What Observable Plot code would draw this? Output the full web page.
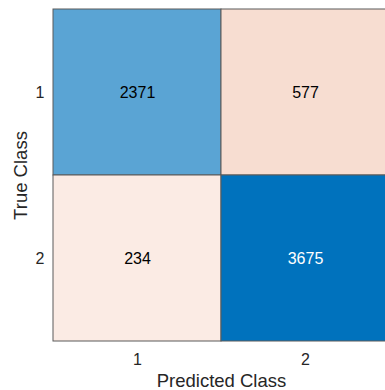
<!DOCTYPE html>
<html>
<head>
<meta charset="utf-8">
<script src="https://cdn.jsdelivr.net/npm/d3@7"></script>
<script src="https://cdn.jsdelivr.net/npm/@observablehq/plot@0.6"></script>
<style>
  html, body { margin: 0; padding: 0; background: #fff; overflow: hidden; }
  svg { font-family: "Liberation Sans", Arial, Helvetica, sans-serif; }
</style>
</head>
<body>
<div id="chart"></div>
<script>
// Confusion matrix: rows are the true class, columns the predicted class
const classes = ["1", "2"];
const trueClass = ["1", "1", "2", "2"];
const predictedClass = ["1", "2", "1", "2"];
const counts = [2371, 577, 234, 3675];

const cells = counts.map((n, i) => ({
  truth: trueClass[i],
  predicted: predictedClass[i],
  count: n,
  diagonal: trueClass[i] === predictedClass[i]
}));

// Diagonal cells shade toward blue, off-diagonal toward a pale orange-red, by count
const maxDiag = d3.max(cells.filter(d => d.diagonal), d => d.count);
const maxOff = d3.max(cells.filter(d => !d.diagonal), d => d.count);
const blue = d3.interpolateRgb("#ffffff", "#0072bd");
const red = d3.interpolateRgb("#ffffff", "#d95319");
const offShade = d3.scaleLinear().domain([0, maxOff]).range([0.06, 0.2]);
function fillFor(d) {
  return d.diagonal ? blue(d.count / maxDiag) : red(offShade(d.count));
}
function textFor(d) {
  return d.diagonal && d.count / maxDiag > 0.8 ? "#fff" : "#000";
}

const chart = Plot.plot({
  width: 385,
  height: 390,
  marginLeft: 53,
  marginRight: -4,
  marginTop: 9,
  marginBottom: 49,
  style: { fontSize: "16px", fontFamily: "Liberation Sans, Arial, sans-serif", color: "#262626" },
  x: { domain: classes, padding: 0, label: null },
  y: { domain: classes, padding: 0, label: null },
  marks: [
    Plot.cell(cells, {
      x: "predicted", y: "truth",
      fill: fillFor,
      stroke: "#5a5a5a", strokeWidth: 1
    }),
    Plot.text(cells, {
      x: "predicted", y: "truth",
      text: d => String(d.count),
      fill: textFor,
      fontSize: 16
    }),
    Plot.axisX({ tickSize: 0, tickPadding: 12, fontSize: 16, label: null }),
    Plot.axisY({ tickSize: 0, tickPadding: 9, fontSize: 16, label: null }),
    Plot.text(["Predicted Class"], {
      frameAnchor: "bottom", dy: 40, text: d => d,
      textAnchor: "middle", lineAnchor: "middle", fontSize: 18.5, fill: "#262626"
    }),
    Plot.text(["True Class"], {
      frameAnchor: "left", dx: -32, rotate: -90, text: d => d,
      textAnchor: "middle", fontSize: 18.5, fill: "#262626"
    })
  ]
});

document.getElementById("chart").appendChild(chart);
</script>
</body>
</html>
